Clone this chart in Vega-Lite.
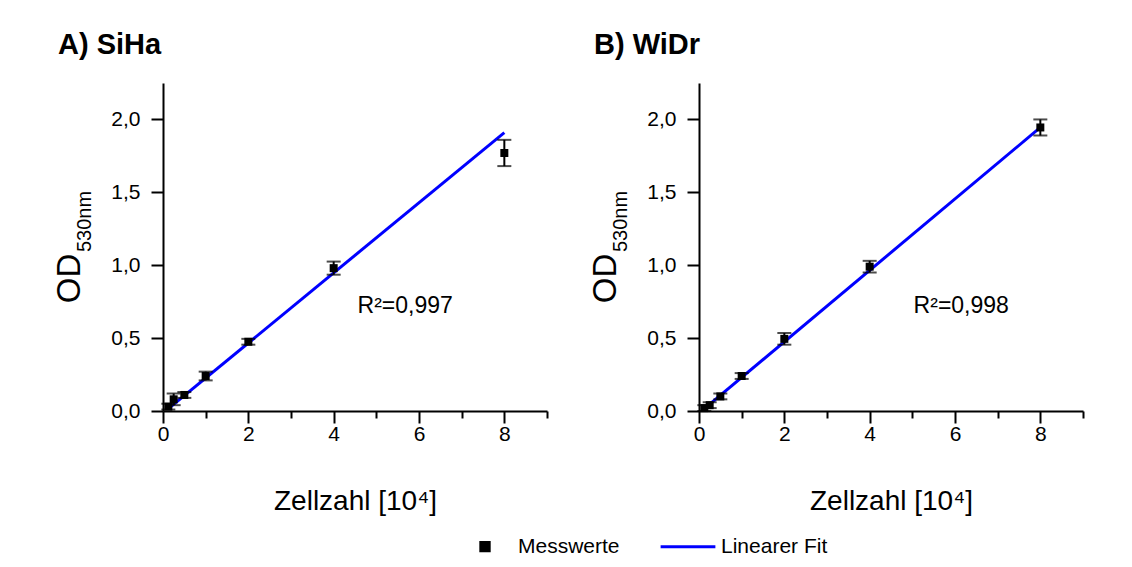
{
  "$schema": "https://vega.github.io/schema/vega-lite/v6.json",
  "background": "white",
  "padding": {"left": 53, "top": 31, "right": 5, "bottom": 5},
  "datasets": {
    "pts": [
      {"cell": "SiHa", "x": 0.125, "y": 0.03, "err": 0.02},
      {"cell": "SiHa", "x": 0.25, "y": 0.08, "err": 0.04},
      {"cell": "SiHa", "x": 0.5, "y": 0.11, "err": 0.02},
      {"cell": "SiHa", "x": 1, "y": 0.24, "err": 0.03},
      {"cell": "SiHa", "x": 2, "y": 0.475, "err": 0.02},
      {"cell": "SiHa", "x": 4, "y": 0.98, "err": 0.045},
      {"cell": "SiHa", "x": 8, "y": 1.77, "err": 0.09},
      {"cell": "WiDr", "x": 0.125, "y": 0.02, "err": 0.02},
      {"cell": "WiDr", "x": 0.25, "y": 0.04, "err": 0.02},
      {"cell": "WiDr", "x": 0.5, "y": 0.1, "err": 0.02},
      {"cell": "WiDr", "x": 1, "y": 0.24, "err": 0.02},
      {"cell": "WiDr", "x": 2, "y": 0.495, "err": 0.04},
      {"cell": "WiDr", "x": 4, "y": 0.99, "err": 0.04},
      {"cell": "WiDr", "x": 8, "y": 1.945, "err": 0.055}
    ],
    "fit": [
      {"cell": "SiHa", "x": 0.12, "y": 0.014},
      {"cell": "SiHa", "x": 8, "y": 1.91},
      {"cell": "WiDr", "x": 0.12, "y": 0.014},
      {"cell": "WiDr", "x": 8, "y": 1.945}
    ],
    "ann": [
      {"cell": "SiHa", "x": 4.56, "y": 0.72, "label": "R²=0,997"},
      {"cell": "WiDr", "x": 5.03, "y": 0.72, "label": "R²=0,998"}
    ]
  },
  "spacing": 41,
  "hconcat": [
    {
      "width": 384, "height": 328,
      "title": {"text": "A) SiHa", "anchor": "start", "frame": "bounds", "dx": 5, "fontSize": 29, "fontWeight": "bold", "font": "Liberation Sans", "color": "black", "offset": 23},
      "layer": [
        {
          "layer": [
            {"data": {"name": "fit"}, "transform": [{"filter": "datum.cell === 'SiHa'"}],
             "mark": {"type": "line", "strokeWidth": 3},
             "encoding": {
               "x": {"field": "x", "type": "quantitative", "scale": {"domain": [0, 9], "nice": false}, "title": "Zellzahl [10⁴]",
                     "axis": {"values": [0,1,2,3,4,5,6,7,8,9], "labelExpr": "datum.value % 2 == 0 ? datum.label : ''", "tickSize": {"condition": {"test": "datum.value % 2 != 0", "value": 7}, "value": 12}}},
               "y": {"field": "y", "type": "quantitative", "scale": {"domain": [0, 2.25], "nice": false}, "title": "OD",
                     "axis": {"values": [0,0.25,0.5,0.75,1,1.25,1.5,1.75,2,2.25], "labelExpr": "(datum.value*2) % 1 == 0 ? replace(format(datum.value, '.1f'), '.', ',') : ''", "tickSize": {"condition": {"test": "(datum.value*2) % 1 != 0", "value": 7}, "value": 12}, "titleX": -84, "titleY": 195, "titleBaseline": "alphabetic", "titleAlign": "center", "titleAngle": 270}},
               "color": {"datum": "Linearer Fit", "scale": {"domain": ["Messwerte", "Linearer Fit"], "range": ["black", "#0000ff"]},
                         "legend": {"orient": "none", "legendX": 294, "legendY": 453, "direction": "horizontal", "title": null,
                                    "labelFont": "Liberation Sans", "labelFontSize": 21, "labelColor": "black",
                                    "labelOffset": 6, "columnPadding": 34,
                                    "encode": {
                                      "symbols": {"update": {
                                        "shape": {"signal": "datum.value === 'Linearer Fit' ? 'stroke' : 'square'"},
                                        "size": {"signal": "datum.value === 'Linearer Fit' ? 3000 : 70"},
                                        "stroke": {"signal": "datum.value === 'Linearer Fit' ? '#0000ff' : 'black'"},
                                        "fill": {"signal": "datum.value === 'Linearer Fit' ? 'transparent' : 'black'"},
                                        "strokeWidth": {"value": 3},
                                        "x": {"value": 28},
                                        "opacity": {"value": 1}}},
                                      "labels": {"update": {"x": {"value": 61}}}
                                    }}}
             }},
            {"data": {"name": "pts"}, "transform": [{"filter": "datum.cell === 'SiHa'"}],
             "mark": {"type": "errorbar", "color": "black", "thickness": 2, "ticks": {"size": 14, "thickness": 2, "color": "black"}},
             "encoding": {"x": {"field": "x", "type": "quantitative", "title": "Zellzahl [10⁴]"}, "y": {"field": "y", "type": "quantitative", "title": "OD"}, "yError": {"field": "err"}}},
            {"data": {"name": "pts"}, "transform": [{"filter": "datum.cell === 'SiHa'"}],
             "mark": {"type": "point", "shape": "square", "filled": true, "size": 64, "opacity": 1},
             "encoding": {"x": {"field": "x", "type": "quantitative", "title": "Zellzahl [10⁴]"}, "y": {"field": "y", "type": "quantitative", "title": "OD"}, "color": {"datum": "Messwerte"}}},
            {"data": {"name": "ann"}, "transform": [{"filter": "datum.cell === 'SiHa'"}],
             "mark": {"type": "text", "align": "left", "baseline": "middle", "fontSize": 23, "font": "Liberation Sans", "color": "black"},
             "encoding": {"x": {"field": "x", "type": "quantitative", "title": "Zellzahl [10⁴]"}, "y": {"field": "y", "type": "quantitative", "title": "OD"}, "text": {"field": "label"}}}
          ]
        },
        {"data": {"name": "fit"}, "transform": [{"filter": "datum.cell === 'SiHa'"}],
         "mark": {"type": "point", "opacity": 0},
         "encoding": {
           "x": {"field": "x", "type": "quantitative", "title": "Zellzahl [10⁴]"},
           "y": {"field": "y", "type": "quantitative", "title": "530nm",
                 "axis": {"orient": "left", "domain": false, "ticks": false, "labels": false, "grid": false, "titleFontSize": 20, "titleX": -73, "titleY": 138, "titleBaseline": "alphabetic", "titleAlign": "center", "titleAngle": 270}}
         }}
      ],
      "resolve": {"axis": {"y": "independent"}}
    },
    {
      "width": 384, "height": 328,
      "title": {"text": "B) WiDr", "anchor": "start", "frame": "bounds", "dx": 5, "fontSize": 29, "fontWeight": "bold", "font": "Liberation Sans", "color": "black", "offset": 23},
      "layer": [
        {
          "layer": [
            {"data": {"name": "fit"}, "transform": [{"filter": "datum.cell === 'WiDr'"}],
             "mark": {"type": "line", "strokeWidth": 3},
             "encoding": {
               "x": {"field": "x", "type": "quantitative", "scale": {"domain": [0, 9], "nice": false}, "title": "Zellzahl [10⁴]",
                     "axis": {"values": [0,1,2,3,4,5,6,7,8,9], "labelExpr": "datum.value % 2 == 0 ? datum.label : ''", "tickSize": {"condition": {"test": "datum.value % 2 != 0", "value": 7}, "value": 12}}},
               "y": {"field": "y", "type": "quantitative", "scale": {"domain": [0, 2.25], "nice": false}, "title": "OD",
                     "axis": {"values": [0,0.25,0.5,0.75,1,1.25,1.5,1.75,2,2.25], "labelExpr": "(datum.value*2) % 1 == 0 ? replace(format(datum.value, '.1f'), '.', ',') : ''", "tickSize": {"condition": {"test": "(datum.value*2) % 1 != 0", "value": 7}, "value": 12}, "titleX": -84, "titleY": 195, "titleBaseline": "alphabetic", "titleAlign": "center", "titleAngle": 270}},
               "color": {"datum": "Linearer Fit", "scale": {"domain": ["Messwerte", "Linearer Fit"], "range": ["black", "#0000ff"]}}
             }},
            {"data": {"name": "pts"}, "transform": [{"filter": "datum.cell === 'WiDr'"}],
             "mark": {"type": "errorbar", "color": "black", "thickness": 2, "ticks": {"size": 14, "thickness": 2, "color": "black"}},
             "encoding": {"x": {"field": "x", "type": "quantitative", "title": "Zellzahl [10⁴]"}, "y": {"field": "y", "type": "quantitative", "title": "OD"}, "yError": {"field": "err"}}},
            {"data": {"name": "pts"}, "transform": [{"filter": "datum.cell === 'WiDr'"}],
             "mark": {"type": "point", "shape": "square", "filled": true, "size": 64, "opacity": 1},
             "encoding": {"x": {"field": "x", "type": "quantitative", "title": "Zellzahl [10⁴]"}, "y": {"field": "y", "type": "quantitative", "title": "OD"}, "color": {"datum": "Messwerte"}}},
            {"data": {"name": "ann"}, "transform": [{"filter": "datum.cell === 'WiDr'"}],
             "mark": {"type": "text", "align": "left", "baseline": "middle", "fontSize": 23, "font": "Liberation Sans", "color": "black"},
             "encoding": {"x": {"field": "x", "type": "quantitative", "title": "Zellzahl [10⁴]"}, "y": {"field": "y", "type": "quantitative", "title": "OD"}, "text": {"field": "label"}}}
          ]
        },
        {"data": {"name": "fit"}, "transform": [{"filter": "datum.cell === 'WiDr'"}],
         "mark": {"type": "point", "opacity": 0},
         "encoding": {
           "x": {"field": "x", "type": "quantitative", "title": "Zellzahl [10⁴]"},
           "y": {"field": "y", "type": "quantitative", "title": "530nm",
                 "axis": {"orient": "left", "domain": false, "ticks": false, "labels": false, "grid": false, "titleFontSize": 20, "titleX": -73, "titleY": 138, "titleBaseline": "alphabetic", "titleAlign": "center", "titleAngle": 270}}
         }}
      ],
      "resolve": {"axis": {"y": "independent"}}
    }
  ],
  "resolve": {"scale": {"color": "shared"}},
  "config": {
    "font": "Liberation Sans",
    "view": {"stroke": null},
    "axis": {
      "grid": false,
      "domainColor": "black", "domainWidth": 2,
      "tickColor": "black", "tickWidth": 2,
      "labelFont": "Liberation Sans", "labelFontSize": 21, "labelColor": "black",
      "titleFont": "Liberation Sans", "titleFontWeight": "normal", "titleColor": "black"
    },
    "axisX": {"labelPadding": 0, "titleFontSize": 28, "titlePadding": 43, "labelFlush": false},
    "axisY": {"labelPadding": 11, "titleFontSize": 33, "titlePadding": 14, "labelFlush": false}
  }
}
